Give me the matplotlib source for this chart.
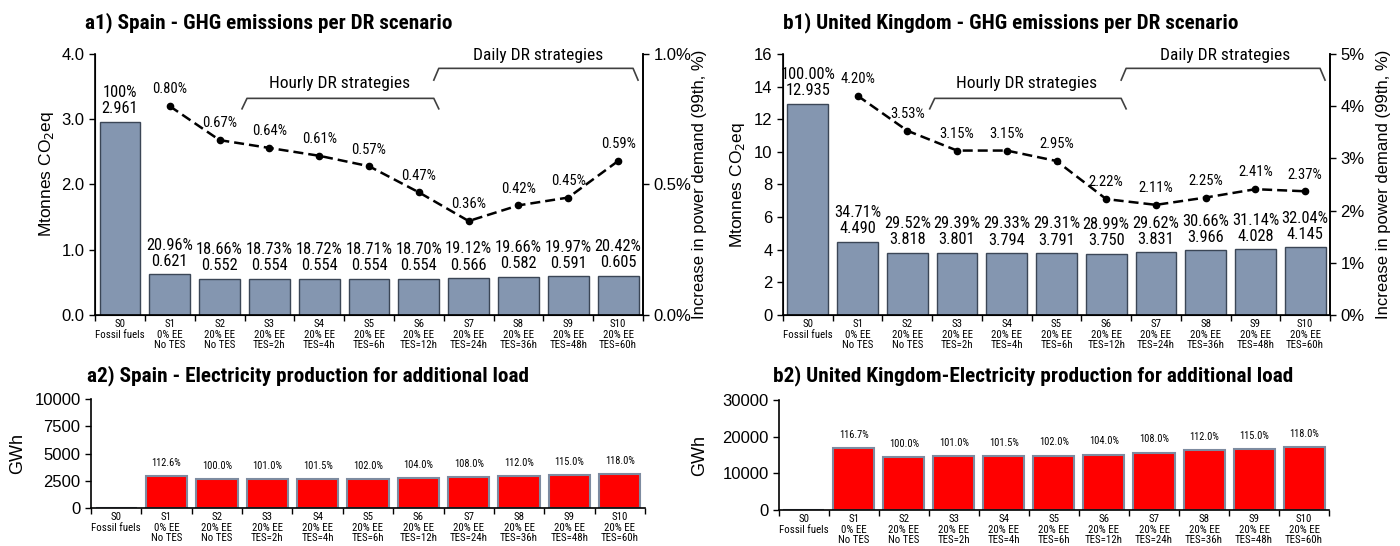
import numpy as np
import matplotlib
matplotlib.use("Agg")
import matplotlib.pyplot as plt
from matplotlib import font_manager

plt.rcParams['font.family'] = ['Liberation Sans', 'DejaVu Sans']

# use a condensed face for the small labels if one is installed
installed = {f.name for f in font_manager.fontManager.ttflist}
narrow_name = None
for name in ['Liberation Sans Narrow', 'Arial Narrow', 'Roboto Condensed',
             'Open Sans Condensed', 'Noto Sans Condensed', 'DejaVu Sans Condensed']:
    if name in installed:
        narrow_name = name
        break
NARROW = [narrow_name, 'Liberation Sans'] if narrow_name else ['Liberation Sans']
scale = 1.0 if narrow_name else 0.85

# categories
scenarios = ["S0", "S1", "S2", "S3", "S4", "S5", "S6", "S7", "S8", "S9", "S10"]
tick_labels = ["S0\nFossil fuels", "S1\n0% EE\nNo TES", "S2\n20% EE\nNo TES",
               "S3\n20% EE\nTES=2h", "S4\n20% EE\nTES=4h", "S5\n20% EE\nTES=6h",
               "S6\n20% EE\nTES=12h", "S7\n20% EE\nTES=24h", "S8\n20% EE\nTES=36h",
               "S9\n20% EE\nTES=48h", "S10\n20% EE\nTES=60h"]

# Spain - GHG emissions (Mt CO2eq) and share of S0
es_ghg = [2.961, 0.621, 0.552, 0.554, 0.554, 0.554, 0.554, 0.566, 0.582, 0.591, 0.605]
es_share = ["100%", "20.96%", "18.66%", "18.73%", "18.72%", "18.71%", "18.70%",
            "19.12%", "19.66%", "19.97%", "20.42%"]
# Spain - increase in power demand (99th, %) for S1..S10
es_peak = [0.80, 0.67, 0.64, 0.61, 0.57, 0.47, 0.36, 0.42, 0.45, 0.59]

# UK - GHG emissions (Mt CO2eq) and share of S0
uk_ghg = [12.935, 4.490, 3.818, 3.801, 3.794, 3.791, 3.750, 3.831, 3.966, 4.028, 4.145]
uk_share = ["100.00%", "34.71%", "29.52%", "29.39%", "29.33%", "29.31%", "28.99%",
            "29.62%", "30.66%", "31.14%", "32.04%"]
uk_peak = [4.20, 3.53, 3.15, 3.15, 2.95, 2.22, 2.11, 2.25, 2.41, 2.37]

# electricity production for additional load (GWh)
es_gwh = [0, 2950, 2620, 2646, 2659, 2672, 2725, 2830, 2934, 3013, 3092]
uk_gwh = [0, 16920, 14500, 14645, 14718, 14790, 15080, 15660, 16240, 16675, 17110]
es_prod_share = ["", "112.6%", "100.0%", "101.0%", "101.5%", "102.0%", "104.0%",
                 "108.0%", "112.0%", "115.0%", "118.0%"]
uk_prod_share = ["", "116.7%", "100.0%", "101.0%", "101.5%", "102.0%", "104.0%",
                 "108.0%", "112.0%", "115.0%", "118.0%"]

bar_blue = "#8496b0"
x = np.arange(len(scenarios))


def cat_axis(ax):
    ax.set_xlim(-0.5, len(scenarios) - 0.5)
    ax.set_xticks(np.arange(-0.5, len(scenarios), 1))
    ax.set_xticklabels([])
    ax.set_xticks(x, minor=True)
    ax.set_xticklabels(tick_labels, minor=True, fontsize=7.8 * scale, family=NARROW,
                       linespacing=1.05)
    ax.tick_params(axis='x', which='major', direction='out', length=4, width=1)
    ax.tick_params(axis='x', which='minor', length=0, pad=3)
    ax.spines['top'].set_visible(False)
    for s in ['left', 'bottom', 'right']:
        ax.spines[s].set_linewidth(1.2)
    ax.tick_params(axis='y', direction='out', length=4, width=1, labelsize=12)


def ghg_panel(ax, ghg, share, peak, ymax, ystep, yfmt, rmax, rstep, rfmt):
    ax.bar(x, ghg, width=0.82, color=bar_blue, edgecolor="#3b4656", linewidth=1)
    for i in range(len(x)):
        ax.annotate(f"{share[i]}\n{ghg[i]:.3f}", (x[i], ghg[i]), xytext=(0, 4),
                    textcoords='offset points', ha='center', va='bottom',
                    fontsize=11.8 * scale, family=NARROW, linespacing=1.1)
    ax.set_ylim(0, ymax)
    yt = np.arange(0, ymax + ystep / 2, ystep)
    ax.set_yticks(yt)
    ax.set_yticklabels([yfmt.format(v) for v in yt])
    cat_axis(ax)
    ax.set_ylabel("Mtonnes CO$_2$eq", fontsize=12.5)

    ax2 = ax.twinx()
    ax2.plot(x[1:], peak, color='black', linestyle='--', linewidth=1.8,
             marker='o', markersize=4.5, dashes=(4, 2))
    for i, v in enumerate(peak):
        ax2.annotate(f"{v:.2f}%", (x[i + 1], v), xytext=(0, 7),
                     textcoords='offset points', ha='center', va='bottom',
                     fontsize=10.5 * scale, family=NARROW)
    ax2.set_ylim(0, rmax)
    rt = np.arange(0, rmax + rstep / 2, rstep)
    ax2.set_yticks(rt)
    ax2.set_yticklabels([rfmt.format(v) for v in rt])
    ax2.tick_params(axis='y', direction='out', length=4, width=1, labelsize=12)
    ax2.spines['top'].set_visible(False)
    ax2.spines['right'].set_linewidth(1.2)
    ax2.set_ylabel("Increase in power demand (99th, %)", fontsize=12)

    # strategy brackets
    tr = ax.get_xaxis_transform()
    ax.plot([2.45, 2.55, 6.3, 6.4], [0.79, 0.83, 0.83, 0.79], color='#404040',
            linewidth=1.2, transform=tr, clip_on=False)
    ax.text(4.4, 0.86, "Hourly DR strategies", transform=tr, ha='center',
            va='bottom', fontsize=12.5 * scale, family=NARROW)
    ax.plot([6.3, 6.4, 10.3, 10.4], [0.90, 0.945, 0.945, 0.90], color='#404040',
            linewidth=1.2, transform=tr, clip_on=False)
    ax.text(8.4, 0.965, "Daily DR strategies", transform=tr, ha='center',
            va='bottom', fontsize=12.5 * scale, family=NARROW)
    return ax2


def prod_panel(ax, gwh, share, ymax, ystep):
    ax.bar(x, gwh, width=0.82, color="#ff0000", edgecolor="#7d8ba0", linewidth=1.5)
    for i in range(1, len(x)):
        ax.annotate(share[i], (x[i], gwh[i]), xytext=(0, 6), textcoords='offset points',
                    ha='center', va='bottom', fontsize=7.5 * scale, family=NARROW)
    ax.set_ylim(0, ymax)
    ax.set_yticks(np.arange(0, ymax + ystep / 2, ystep))
    cat_axis(ax)
    ax.spines['right'].set_visible(False)
    ax.set_ylabel("GWh", fontsize=13)


fig = plt.figure(figsize=(14, 5.46), dpi=100)

a1 = fig.add_axes([0.0679, 0.4231, 0.3914, 0.478])
a1r = ghg_panel(a1, es_ghg, es_share, es_peak, 4.0, 1.0, "{:.1f}", 1.0, 0.5, "{:.1f}%")
a1.yaxis.set_label_coords(-0.072, 0.54)
a1r.yaxis.set_label_coords(1.089, 0.5)

b1 = fig.add_axes([0.5593, 0.4231, 0.3907, 0.478])
b1r = ghg_panel(b1, uk_ghg, uk_share, uk_peak, 16, 2, "{:.0f}", 5, 1, "{:.0f}%")
b1.yaxis.set_label_coords(-0.066, 0.5)
b1r.yaxis.set_label_coords(1.084, 0.5)

a2 = fig.add_axes([0.065, 0.0696, 0.3957, 0.1996])
prod_panel(a2, es_gwh, es_prod_share, 10000, 2500)
a2.yaxis.set_label_coords(-0.117, 0.5)

b2 = fig.add_axes([0.5564, 0.0659, 0.3929, 0.2015])
prod_panel(b2, uk_gwh, uk_prod_share, 30000, 10000)
b2.yaxis.set_label_coords(-0.129, 0.5)

tkw = dict(fontsize=15.3 * scale, fontweight='bold', family=NARROW, va='center', ha='left')
fig.text(0.061, 0.958, "a1) Spain - GHG emissions per DR scenario", **tkw)
fig.text(0.559, 0.958, "b1) United Kingdom - GHG emissions per DR scenario", **tkw)
fig.text(0.062, 0.312, "a2) Spain - Electricity production for additional load", **tkw)
fig.text(0.552, 0.312, "b2) United Kingdom-Electricity production for additional load", **tkw)

fig.savefig("out.png", dpi=100)
